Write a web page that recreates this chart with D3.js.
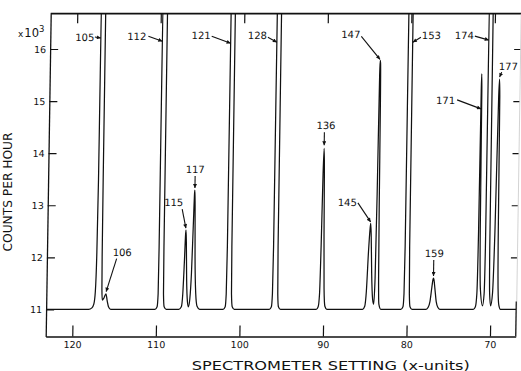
<!DOCTYPE html>
<html><head><meta charset="utf-8">
<script src="https://cdn.jsdelivr.net/npm/d3@7"></script>
<style>
html,body{margin:0;padding:0;background:#fff;}
svg{display:block;}
text{font-family:"DejaVu Sans",sans-serif;fill:#111;}
</style></head><body>
<svg id="c" width="521" height="371"></svg>
<script>
// ---- data ----
const xTicks = [120, 110, 100, 90, 80, 70];
const yTicks = [11, 12, 13, 14, 15, 16];
const yTicksRight = [12, 13, 14, 15, 16];

// recorded trace: spectrometer setting (x-units) and counts per hour (x10^3)
const traceX = [123.18,118.10,117.70,117.48,117.32,117.22,117.15,117.12,116.60,116.59,116.57,116.54,116.48,116.28,116.05,115.88,115.72,115.45,
 110.15,109.90,109.80,109.77,109.76,109.20,109.19,109.16,109.06,108.80,
 107.30,107.00,106.85,106.72,106.62,106.58,106.52,106.42,106.28,106.15,106.00,105.85,105.72,105.62,105.59,105.54,105.45,105.30,105.12,104.80,
 102.00,101.75,101.65,101.60,101.58,101.08,101.06,101.02,100.91,100.65,
 96.47,96.22,96.12,96.07,96.05,95.55,95.53,95.48,95.38,95.13,
 90.85,90.62,90.48,90.38,90.28,90.20,90.13,90.05,89.95,89.82,89.58,
 85.30,85.05,84.88,84.70,84.55,84.48,84.40,84.28,84.12,83.98,83.86,83.77,83.69,83.65,83.60,83.55,83.50,83.44,83.36,83.12,
 80.72,80.47,80.37,80.32,80.30,79.80,79.78,79.73,79.63,79.38,
 77.70,77.45,77.25,77.05,76.93,76.87,76.81,76.68,76.50,76.30,76.05,
 72.05,71.80,71.65,71.56,71.50,71.47,71.43,71.36,71.24,70.95,70.78,70.71,70.68,70.22,70.19,70.12,69.98,69.78,69.60,69.40,69.33,69.27,69.20,69.12,69.00,68.80,
 66.92];
const traceCounts = [11.00,11.00,11.03,11.10,11.35,12.00,13.50,17.50,17.50,13.50,12.00,11.40,11.18,11.22,11.30,11.16,11.05,11.00,
 11.00,11.05,11.30,12.20,17.50,17.50,12.20,11.30,11.05,11.00,
 11.00,11.05,11.30,11.90,12.45,12.52,12.30,11.60,11.15,11.05,11.20,11.70,12.60,13.25,13.29,13.00,12.00,11.30,11.06,11.00,
 11.00,11.05,11.30,12.20,17.50,17.50,12.20,11.30,11.05,11.00,
 11.00,11.05,11.30,12.20,17.50,17.50,12.20,11.30,11.05,11.00,
 11.00,11.05,11.30,12.20,13.60,14.09,13.70,12.40,11.40,11.06,11.00,
 11.00,11.06,11.35,12.10,12.55,12.65,12.40,11.70,11.20,11.10,11.60,13.20,15.50,15.78,15.72,15.00,13.00,11.60,11.10,11.00,
 11.00,11.05,11.30,12.20,17.50,17.50,12.20,11.30,11.05,11.00,
 11.00,11.04,11.15,11.42,11.57,11.60,11.57,11.40,11.15,11.04,11.00,
 11.00,11.05,11.30,12.50,15.20,15.52,15.20,12.50,11.40,11.07,11.30,12.20,17.50,17.50,12.20,11.30,11.07,11.30,12.50,15.10,15.42,15.10,12.50,11.40,11.08,11.00,
 11.00];

// peak annotations: label, and point the arrow touches (x-units, counts x10^3)
const peakLabels = ["105","106","112","115","117","121","128","136","145","147","153","159","171","174","177"];
const peakTipX   = [117.13,116.03,109.77,106.60,105.59,101.59,96.06,90.20,84.50,83.68,79.78,76.87,71.50,70.69,69.33];
const peakTipY   = [16.21,11.34,16.15,12.56,13.33,16.11,16.13,14.15,12.68,15.80,16.13,11.64,14.85,16.17,15.46];

// ---- layout (pixels) ----
const L = 45.7, R = 515.7, T = 13.3, B = 336.5;
const SKEW = 0.888; // scanned page is slightly sheared
// label offsets from arrow tip: [textDx, textDy, anchor, arrowStartDx, arrowStartDy]
const labelLayout = [
  [-6.5, 2.5, "end", -6, -1],
  [15.5, -36, "middle", 10, -33],
  [-16, -1, "end", -14, -5],
  [-3, -22, "end", -4, -19],
  [0, -15, "middle", 0, -12],
  [-20, -4, "end", -19, -7],
  [-10, -3, "end", -9, -5],
  [1.5, -16, "middle", 0, -13],
  [-14, -16, "end", -13, -19],
  [-20, -21, "end", -19, -23],
  [9, -3, "start", 8, -5],
  [0.5, -19, "middle", 0, -16],
  [-26, -5, "end", -24, -9],
  [-15, -1, "end", -14, -4],
  [-1, -7, "start", 2, -5]
];

const x = d3.scaleLinear().domain([123.18, 66.92]).range([L, R]);
const y = d3.scaleLinear().domain([10.48, 16.685]).range([B, T]);

const svg = d3.select("#c");
svg.append("rect").attr("width",521).attr("height",371).attr("fill","#fff");
const defs = svg.append("defs");
defs.append("clipPath").attr("id","plotclip").append("rect")
  .attr("x",L).attr("y",T).attr("width",R-L).attr("height",B-T);
defs.append("marker").attr("id","ah").attr("viewBox","0 0 10 10")
  .attr("refX",10).attr("refY",5).attr("markerWidth",5).attr("markerHeight",4)
  .attr("markerUnits","userSpaceOnUse").attr("orient","auto")
  .append("path").attr("d","M0,0L10,5L0,10z").attr("fill","#111");

const g = svg.append("g")
  .attr("transform",`translate(0,${B}) skewX(${-SKEW}) translate(0,${-B})`);

function styleAxis(sel, fs){
  sel.select(".domain").attr("stroke","#111").attr("stroke-width",1.3);
  sel.selectAll(".tick line").attr("stroke","#111").attr("stroke-width",1.2);
  sel.selectAll(".tick text").attr("fill","#111").style("font-family","DejaVu Sans, sans-serif").style("font-size",fs+"px");
}

// bottom axis
g.append("g").attr("transform",`translate(0,${B})`)
  .call(d3.axisBottom(x).tickValues(xTicks).tickSize(-11).tickSizeOuter(0).tickPadding(5).tickFormat(d3.format("d")))
  .call(s=>styleAxis(s,9.5));
// left axis
g.append("g").attr("transform",`translate(${L},0)`)
  .call(d3.axisLeft(y).tickValues(yTicks).tickSize(-8).tickSizeOuter(0).tickPadding(4).tickFormat(d3.format("d")))
  .call(s=>styleAxis(s,9.5));
// top frame with ticks
g.append("g").attr("transform",`translate(0,${T})`)
  .call(d3.axisTop(x).tickValues(xTicks).tickSize(-10).tickSizeOuter(0).tickFormat(""))
  .call(s=>styleAxis(s,9.5));
g.append("line").attr("x1",L).attr("x2",516.5).attr("y1",T).attr("y2",T)
  .attr("stroke","#111").attr("stroke-width",1.3);
// right axis (faint in the scan)
const ra = g.append("g").attr("transform",`translate(${R},0)`)
  .call(d3.axisRight(y).tickValues(yTicksRight).tickSize(-6).tickSizeOuter(0).tickFormat(""))
  .call(s=>styleAxis(s,9.5));
ra.select(".domain").attr("stroke","#c8c8c8").attr("stroke-width",0.8);
g.append("line").attr("x1",R).attr("x2",R).attr("y1",y(11.15)).attr("y2",B)
  .attr("stroke","#111").attr("stroke-width",1.2);

// trace
const pts = traceX.map((v,i)=>[v, traceCounts[i]]);
g.append("path").attr("clip-path","url(#plotclip)")
  .attr("d", d3.line().x(d=>x(d[0])).y(d=>y(d[1])).curve(d3.curveMonotoneX)(pts))
  .attr("fill","none").attr("stroke","#111").attr("stroke-width",1.25).attr("stroke-linejoin","round");

// annotations
peakLabels.forEach((lab,i)=>{
  const tx = x(peakTipX[i]), ty = y(peakTipY[i]);
  const [dx,dy,anc,ax,ay] = labelLayout[i];
  g.append("line").attr("x1",tx+ax).attr("y1",ty+ay).attr("x2",tx).attr("y2",ty)
    .attr("stroke","#111").attr("stroke-width",1.1).attr("marker-end","url(#ah)");
  g.append("text").attr("x",tx+dx).attr("y",ty+dy).attr("text-anchor",anc)
    .style("font-size","10px").text(lab);
});

// axis titles and multiplier (outside the sheared group)
const mult = svg.append("text").attr("x",18).attr("y",37);
mult.append("tspan").style("font-size","9px").text("x");
mult.append("tspan").attr("dx",1).style("font-size","11.5px").text("10");
mult.append("tspan").attr("dy",-5).style("font-size","8.5px").text("3");

svg.append("text").attr("transform","translate(12,192) rotate(-90)")
  .attr("text-anchor","middle").style("font-size","12px")
  .attr("textLength",119).attr("lengthAdjust","spacingAndGlyphs").text("COUNTS PER HOUR");
svg.append("text").attr("x",330.8).attr("y",369.5).attr("text-anchor","middle")
  .style("font-size","12.5px").attr("textLength",278).attr("lengthAdjust","spacingAndGlyphs")
  .text("SPECTROMETER SETTING (x-units)");
</script>
</body></html>
